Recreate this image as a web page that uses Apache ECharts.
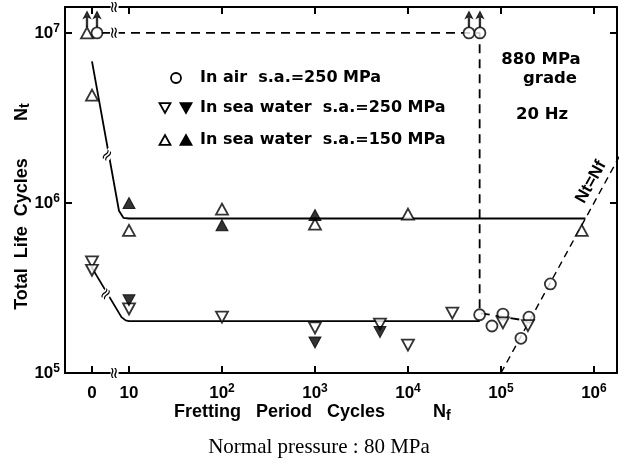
<!DOCTYPE html>
<html>
<head>
<meta charset="utf-8">
<script src="https://cdn.jsdelivr.net/npm/echarts@6/dist/echarts.min.js"></script>
<style>html,body{margin:0;padding:0;background:#fff}#c{width:624px;height:466px}</style>
</head>
<body>
<div id="c"></div>
<script>
// ---- data (x = fretting period cycles Nf, y = total life cycles Nt) ----
// "0" on the x axis is drawn at the display position ZERO (cycles) to the left of the axis break.
var ZERO = 4;
var xTickValues = [0, 10, 1e2, 1e3, 1e4, 1e5, 1e6];
var xTickLabels = ['0', '10', '10^2', '10^3', '10^4', '10^5', '10^6'];
var yTickValues = [1e5, 1e6, 1e7];
var yTickLabels = ['10^5', '10^6', '10^7'];

// In air s.a.=250 MPa (open circles)
var airX = [80000, 59000, 105000, 164000, 200000, 340000];
var airY = [189000, 220000, 222000, 160000, 213000, 334000];
var airRunoutX = [0, 40000, 52500];
var airRunoutY = [1e7, 1e7, 1e7];

// In sea water s.a.=250 MPa
var sw250OpenX = [0, 0, 10, 100, 1000, 5000, 10000, 30000, 105000, 195000];
var sw250OpenY = [450000, 402000, 238000, 213000, 184000, 194000, 146000, 225000, 197000, 190000];
var sw250FillX = [10, 1000, 5000];
var sw250FillY = [268000, 151000, 174000];

// In sea water s.a.=150 MPa
var sw150OpenX = [0, 10, 100, 1000, 10000, 740000];
var sw150OpenY = [4300000, 690000, 920000, 750000, 860000, 690000];
var sw150FillX = [10, 100, 1000];
var sw150FillY = [1000000, 740000, 850000];
var sw150RunoutX = [0];
var sw150RunoutY = [1e7];

// fitted curves
var curve150X = [0, 7.8, 8.7, 10, 810000];
var curve150Y = [6800000, 900000, 818000, 810000, 810000];
var curve250X = [0, 8.3, 9.2, 10, 59000];
var curve250Y = [415000, 213000, 204000, 202000, 202000];
var airCurveX = [5, 59000, 59000, 200000];
var airCurveY = [1e7, 1e7, 225000, 202000];
var equalX = [100000, 2000000];   // Nt = Nf
var equalY = [100000, 2000000];

// axis extent
var X_MIN = 2.05, X_MAX = 1.77e6, Y_MIN = 1e5, Y_MAX = 1.42e7;

function lx(v) { return Math.log10(v === 0 ? ZERO : v); }
function ly(v) { return Math.log10(v); }
function pts(xs, ys) { return xs.map(function (x, i) { return [lx(x), ly(ys[i])]; }); }

var FONT = 'Liberation Sans';
var LFONT = 'DejaVu Sans';
function supFmt(s) {
  var p = s.split('^');
  if (p.length === 1) return '{b|' + p[0] + '}';
  return '{b|' + p[0] + '}{s|' + p[1] + '}';
}
var rich = {
  b: { fontSize: 17, lineHeight: 20, fontFamily: FONT, fontWeight: 'bold', color: '#000' },
  s: { fontSize: 12, lineHeight: 12, verticalAlign: 'top', fontFamily: FONT, fontWeight: 'bold', color: '#000' }
};
var xTickPos = xTickValues.map(lx);
var yTickPos = yTickValues.map(ly);
function xLabel(v) {
  for (var i = 0; i < xTickPos.length; i++) if (Math.abs(xTickPos[i] - v) < 1e-6) return supFmt(xTickLabels[i]);
  return '';
}
function yLabel(v) {
  for (var i = 0; i < yTickPos.length; i++) if (Math.abs(yTickPos[i] - v) < 1e-6) return supFmt(yTickLabels[i]);
  return '';
}

var axisLine = { show: true, lineStyle: { color: '#000', width: 2 } };
var tickIn = function (vals) { return { show: true, inside: true, length: 7, lineStyle: { color: '#000', width: 2 }, customValues: vals }; };

var openStyle = { color: '#fff', borderColor: '#000', borderWidth: 1.8 };
var fillStyle = { color: '#000', borderColor: '#000', borderWidth: 1 };
var ARROW = 'path://M5,0 L10,10 L6.2,8 L6.2,22 L3.8,22 L3.8,8 L0,10 Z';

var chart = echarts.init(document.getElementById('c'), null, { renderer: 'canvas' });
var option = {
  animation: false,
  backgroundColor: '#fff',
  grid: { left: 65, top: 7, right: 7, bottom: 93 },
  xAxis: [
    { type: 'value', min: lx(X_MIN), max: lx(X_MAX), axisLine: axisLine, splitLine: { show: false },
      axisTick: tickIn(xTickPos),
      axisLabel: { show: true, customValues: xTickPos, formatter: xLabel, margin: 10, rich: rich } },
    { type: 'value', position: 'top', min: lx(X_MIN), max: lx(X_MAX), axisLine: axisLine, splitLine: { show: false },
      axisTick: tickIn(xTickPos), axisLabel: { show: false } }
  ],
  yAxis: [
    { type: 'value', min: ly(Y_MIN), max: ly(Y_MAX), axisLine: axisLine, splitLine: { show: false },
      axisTick: tickIn(yTickPos),
      axisLabel: { show: true, customValues: yTickPos, formatter: yLabel, margin: 5, rich: rich } },
    { type: 'value', position: 'right', min: ly(Y_MIN), max: ly(Y_MAX), axisLine: axisLine, splitLine: { show: false },
      axisTick: tickIn(yTickPos), axisLabel: { show: false } }
  ],
  series: [
    { type: 'line', data: pts(equalX, equalY), symbol: 'none', lineStyle: { color: '#000', width: 1.4, type: [7, 5] }, z: 2 },
    { type: 'line', data: pts(airCurveX, airCurveY), symbol: 'none', lineStyle: { color: '#000', width: 1.8, type: [9, 6] }, z: 2 },
    { type: 'line', data: pts(curve150X, curve150Y), symbol: 'none', lineStyle: { color: '#000', width: 1.8 }, z: 2 },
    { type: 'line', data: pts(curve250X, curve250Y), symbol: 'none', lineStyle: { color: '#000', width: 1.8 }, z: 2 },
    // runout arrows
    { type: 'scatter', data: pts(sw150RunoutX, sw150RunoutY), symbol: ARROW, symbolSize: [7, 15], symbolOffset: [-5, -14], itemStyle: fillStyle, z: 4 },
    { type: 'scatter', data: pts(airRunoutX, airRunoutY), symbol: ARROW, symbolSize: [7, 15],
      symbolOffset: [5, -14], itemStyle: fillStyle, z: 4 },
    // markers
    { type: 'scatter', data: pts(sw150RunoutX, sw150RunoutY), symbol: 'triangle', symbolSize: [12, 11], symbolOffset: [-5, 0], itemStyle: openStyle, z: 5 },
    { type: 'scatter', data: pts(airRunoutX, airRunoutY), symbol: 'circle', symbolSize: 11, symbolOffset: [5, 0], itemStyle: openStyle, z: 5 },
    { type: 'scatter', data: pts(airX, airY), symbol: 'circle', symbolSize: 11, itemStyle: openStyle, z: 5 },
    { type: 'scatter', data: pts(sw250OpenX, sw250OpenY), symbol: 'triangle', symbolRotate: 180, symbolSize: [12, 11], itemStyle: openStyle, z: 5 },
    { type: 'scatter', data: pts(sw250FillX, sw250FillY), symbol: 'triangle', symbolRotate: 180, symbolSize: [12, 11], itemStyle: fillStyle, z: 5 },
    { type: 'scatter', data: pts(sw150OpenX, sw150OpenY), symbol: 'triangle', symbolSize: [12, 11], itemStyle: openStyle, z: 5 },
    { type: 'scatter', data: pts(sw150FillX, sw150FillY), symbol: 'triangle', symbolSize: [12, 11], itemStyle: fillStyle, z: 5 }
  ]
};
chart.setOption(option);

// ---- annotations ----
var T = { fontFamily: FONT, fontWeight: 'bold', fontSize: 18, fill: '#000' };
var L = { fontFamily: LFONT, fontWeight: 'bold', fontSize: 16 };
function txt(x, y, s, extra) {
  var st = Object.assign({}, T, { text: s, x: x, y: y, textVerticalAlign: 'middle' }, extra || {});
  return { type: 'text', z: 20, style: st };
}
function mk(type, x, y, size, rot, filled) {
  var h = size * 0.9, w = size;
  if (type === 'circle') return { type: 'circle', z: 20, shape: { cx: x, cy: y, r: size / 2 }, style: { fill: '#fff', stroke: '#000', lineWidth: 1.8 } };
  var pts2 = rot ? [[x - w / 2, y - h / 2], [x + w / 2, y - h / 2], [x, y + h / 2]] : [[x - w / 2, y + h / 2], [x + w / 2, y + h / 2], [x, y - h / 2]];
  return { type: 'polygon', z: 20, shape: { points: pts2 }, style: { fill: filled ? '#000' : '#fff', stroke: '#000', lineWidth: 1.8 } };
}
var brk = function (x, y, rot) {
  return { type: 'text', z: 30, x: x, y: y, rotation: rot, style: { text: '≈', x: 0, y: 0, fontFamily: 'DejaVu Sans', fontSize: 16, fill: '#000', textAlign: 'center', textVerticalAlign: 'middle', backgroundColor: '#fff', padding: [-4, 0] } };
};
var g = [];
g.push(mk('circle', 176, 78, 10));
g.push(txt(200, 78, 'In air  s.a.=250 MPa', L));
g.push(mk('tri', 165, 108, 11, true, false));
g.push(mk('tri', 186, 108, 11, true, true));
g.push(txt(200, 108, 'In sea water  s.a.=250 MPa', L));
g.push(mk('tri', 165, 140, 11, false, false));
g.push(mk('tri', 186, 140, 11, false, true));
g.push(txt(200, 140, 'In sea water  s.a.=150 MPa', L));
g.push(txt(541, 60, '880 MPa', Object.assign({ textAlign: 'center' }, L, { fontSize: 16.5 })));
g.push(txt(550, 79, 'grade', Object.assign({ textAlign: 'center' }, L, { fontSize: 16.5 })));
g.push(txt(542, 115, '20 Hz', Object.assign({ textAlign: 'center' }, L, { fontSize: 16.5 })));
g.push({ type: 'text', z: 20, x: 22, y: 234, rotation: Math.PI / 2,
  style: Object.assign({}, T, { text: 'Total  Life  Cycles', x: 0, y: 0, textAlign: 'center', textVerticalAlign: 'middle', fontSize: 18 }) });
g.push({ type: 'text', z: 20, x: 22, y: 108, rotation: Math.PI / 2,
  style: Object.assign({}, T, { text: 'N', x: 0, y: 0, textAlign: 'right', textVerticalAlign: 'middle', fontSize: 18 }) });
g.push({ type: 'text', z: 20, x: 25, y: 108, rotation: Math.PI / 2,
  style: Object.assign({}, T, { text: 't', x: 0, y: 0, textAlign: 'left', textVerticalAlign: 'middle', fontSize: 14 }) });
g.push(txt(174, 412, 'Fretting   Period   Cycles', { fontSize: 18 }));
g.push(txt(433, 412, 'N', { fontSize: 18 }));
g.push(txt(446, 416, 'f', { fontSize: 14 }));
g.push(txt(319, 447, 'Normal pressure : 80 MPa', { fontFamily: 'Liberation Serif', fontWeight: 'normal', fontSize: 21, textAlign: 'center' }));
g.push({ type: 'text', z: 20, x: 591, y: 182, rotation: Math.PI * 61 / 180,
  style: Object.assign({}, T, { text: 'Nt=Nf', x: 0, y: 0, textAlign: 'center', textVerticalAlign: 'middle', fontSize: 17 }) });

// break marks
var bx = chart.convertToPixel({ xAxisIndex: 0 }, lx(7));
var yb = chart.convertToPixel({ yAxisIndex: 0 }, ly(Y_MIN));
var yt = chart.convertToPixel({ yAxisIndex: 0 }, ly(Y_MAX));
var y7 = chart.convertToPixel({ yAxisIndex: 0 }, ly(1e7));
g.push(brk(bx, yb, Math.PI / 2));
g.push(brk(bx, yt, Math.PI / 2));
g.push(brk(bx, y7, Math.PI / 2));
var p1 = chart.convertToPixel({ xAxisIndex: 0, yAxisIndex: 0 }, [lx(5.9), ly(1.9e6)]);
var p2 = chart.convertToPixel({ xAxisIndex: 0, yAxisIndex: 0 }, [lx(5.7), ly(2.9e5)]);
g.push(brk(p1[0], p1[1], Math.PI * 0.3));
g.push(brk(p2[0], p2[1], Math.PI * 0.3));
chart.setOption({ graphic: g });
</script>
</body>
</html>
